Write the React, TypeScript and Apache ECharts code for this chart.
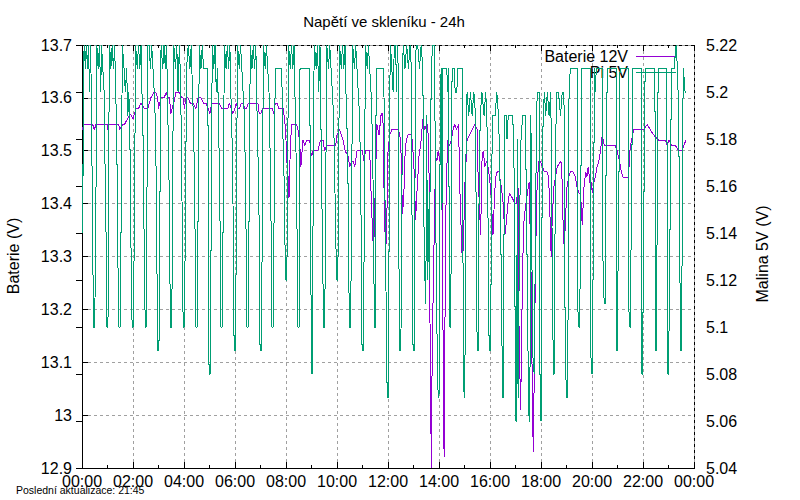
import React, { useEffect, useRef } from "react";
import * as echarts from "echarts";

const FONT = '"Liberation Sans", Arial, sans-serif';

const chartTitle = "Napětí ve skleníku - 24h";
const footerText = "Poslední aktualizace: 21:45";
const leftAxisName = "Baterie (V)";
const rightAxisName = "Malina 5V (V)";
const seriesNames = ["Baterie 12V", "Pi 5V"];

// [minute of day, volts]
const battery0to6: number[][] = [
  [0,13.54],[5,13.55],[25,13.55],[29,13.54],[33,13.55],[59,13.55],[61,13.54],[64,13.55],[86,13.55],[89,13.54],[96,13.55],[100,13.55],[107,13.56],[114,13.57],[120,13.56],[127,13.58],[133,13.58],[139,13.59],[147,13.58],[155,13.58],[162,13.6],[169,13.61],[174,13.61],[178,13.6],[180,13.58],[186,13.6],[193,13.6],[198,13.61],[202,13.6],[206,13.6],[209,13.57],[212,13.58],[216,13.59],[221,13.61],[229,13.61],[235,13.6],[238,13.6],[241,13.58],[244,13.6],[249,13.6],[255,13.59],[261,13.59],[268,13.58],[273,13.6],[280,13.6],[286,13.59],[292,13.59],[297,13.58],[301,13.57],[305,13.59],[323,13.59],[329,13.58],[343,13.58],[347,13.59],[351,13.58],[355,13.57],
];
const battery6to12: number[][] = [
  [360,13.58],[363,13.59],[367,13.58],[371,13.58],[375,13.59],[379,13.59],[383,13.58],[387,13.58],[391,13.59],[414,13.59],[417,13.57],[420,13.57],[426,13.58],[448,13.58],[451,13.57],[455,13.59],[459,13.59],[463,13.58],[473,13.58],[477,13.56],[480,13.52],[482,13.48],[485,13.45],[487,13.41],[490,13.5],[493,13.55],[500,13.55],[505,13.55],[508,13.54],[512,13.52],[515,13.47],[518,13.5],[520,13.52],[524,13.51],[529,13.52],[536,13.52],[538,13.5],[540,13.49],[544,13.5],[555,13.5],[558,13.51],[561,13.52],[567,13.52],[571,13.5],[576,13.51],[597,13.51],[600,13.53],[606,13.54],[610,13.53],[614,13.52],[619,13.5],[626,13.49],[630,13.47],[634,13.48],[638,13.48],[642,13.47],[647,13.5],[660,13.5],[663,13.48],[667,13.5],[677,13.5],[679,13.45],[681,13.4],[684,13.34],[686,13.31],[688,13.36],[690,13.43],[694,13.55],[699,13.53],[704,13.57],[708,13.57],[710,13.45],[712,13.38],[714,13.31],[717,13.34],
];
const battery12to18: number[][] = [
  [719,13.49],[724,13.53],[729,13.54],[744,13.54],[748,13.53],[751,13.49],[754,13.38],[757,13.41],[760,13.49],[763,13.52],[767,13.53],[775,13.53],[777,13.52],[781,13.47],[785,13.37],[788,13.42],[793,13.49],[798,13.52],[802,13.56],[806,13.54],[812,13.55],[816,13.52],[818,13.26],[820,13.06],[822,12.9],[824,13.12],[828,13.31],[832,13.49],[835,13.48],[838,13.5],[842,13.48],[846,13.51],[848,13.36],[850,13.08],[852,12.92],[854,13.17],[857,13.44],[861,13.52],[865,13.51],[869,13.52],[873,13.54],[877,13.55],[881,13.54],[886,13.55],[889,13.43],[893,13.33],[895,13.29],[898,13.33],[900,13.42],[906,13.52],[924,13.55],[930,13.54],[932,13.45],[936,13.38],[938,13.34],[941,13.48],[944,13.5],[948,13.47],[952,13.48],[955,13.47],[959,13.45],[963,13.41],[967,13.34],[970,13.4],[973,13.45],[977,13.46],[981,13.46],[987,13.43],[991,13.4],[995,13.34],[999,13.37],[1002,13.4],[1006,13.42],[1013,13.41],[1018,13.4],[1022,13.4],[1026,13.43],[1028,13.18],[1032,13.01],[1034,13.12],[1036,13.24],[1039,13.36],[1043,13.39],[1048,13.42],[1052,13.44],[1055,13.33],[1057,13.25],[1060,13.0],[1062,12.93],[1063,13.0],
];
const battery18to24: number[][] = [
  [1067,13.29],[1071,13.44],[1075,13.48],[1079,13.48],[1083,13.47],[1088,13.46],[1094,13.46],[1098,13.45],[1101,13.38],[1104,13.3],[1106,13.36],[1110,13.43],[1114,13.45],[1118,13.47],[1127,13.48],[1130,13.44],[1132,13.36],[1135,13.31],[1137,13.36],[1141,13.43],[1145,13.45],[1149,13.46],[1156,13.46],[1161,13.45],[1165,13.43],[1169,13.42],[1173,13.42],[1177,13.36],[1181,13.43],[1185,13.46],[1188,13.45],[1191,13.47],[1195,13.44],[1198,13.44],[1201,13.42],[1204,13.44],[1208,13.45],[1212,13.47],[1216,13.48],[1220,13.5],[1224,13.53],[1229,13.51],[1255,13.51],[1259,13.5],[1265,13.48],[1269,13.46],[1273,13.45],[1286,13.45],[1289,13.5],[1293,13.52],[1298,13.54],[1322,13.54],[1330,13.55],[1337,13.54],[1345,13.53],[1357,13.52],[1373,13.52],[1377,13.51],[1381,13.52],[1388,13.51],[1396,13.51],[1404,13.5],[1412,13.5],[1416,13.51],[1421,13.52],
];

const pi0to6: number[][] = [
  [0,5.17],[1,5.15],[2,5.14],[3,5.2],[5,5.22],[8,5.21],[10,5.22],[13,5.21],[15,5.22],[18,5.2],[20,5.22],
  [22,5.2],[24,5.16],[26,5.12],[27,5.1],[30,5.1],[31,5.12],[33,5.16],[35,5.22],[38,5.21],[41,5.22],[44,5.2],[46,5.22],[49,5.21],
  [52,5.2],[54,5.17],[56,5.16],[57,5.12],[58,5.1],[61,5.1],[62,5.12],[63,5.18],[65,5.22],[68,5.21],[71,5.22],[74,5.21],[77,5.22],[79,5.2],
  [81,5.19],[83,5.16],[85,5.12],[87,5.1],[90,5.1],[91,5.12],[93,5.17],[95,5.22],[99,5.21],[102,5.2],[105,5.21],[108,5.19],[110,5.2],
  [112,5.19],[114,5.16],[116,5.12],[118,5.1],[121,5.1],[122,5.12],[124,5.16],[126,5.22],[130,5.21],[133,5.22],[136,5.21],[139,5.22],[141,5.2],
  [143,5.19],[145,5.16],[147,5.12],[149,5.1],[151,5.1],[152,5.11],[153,5.16],[155,5.22],[158,5.22],[161,5.21],[164,5.22],[167,5.21],[170,5.2],
  [172,5.19],[175,5.16],[177,5.11],[178,5.09],[181,5.09],[182,5.11],[184,5.17],[186,5.22],[190,5.21],[193,5.22],[196,5.21],[199,5.22],[201,5.2],
  [203,5.18],[205,5.16],[207,5.12],[208,5.1],[211,5.1],[212,5.12],[214,5.18],[216,5.22],[220,5.21],[223,5.22],[226,5.2],[229,5.22],[231,5.21],
  [233,5.19],[235,5.16],[237,5.12],[238,5.1],[241,5.1],[242,5.12],[244,5.16],[246,5.21],[250,5.22],[254,5.21],[257,5.22],[260,5.2],
  [262,5.19],[265,5.16],[267,5.12],[268,5.1],[271,5.1],[272,5.12],[274,5.17],[276,5.22],[280,5.21],[283,5.22],[286,5.21],[296,5.21],
  [297,5.16],[298,5.11],[299,5.08],[302,5.08],[303,5.11],[305,5.19],[307,5.22],[310,5.21],[313,5.22],[316,5.2],[319,5.21],
  [321,5.19],[324,5.16],[326,5.12],[327,5.1],[330,5.1],[331,5.12],[333,5.17],[335,5.22],[339,5.21],[342,5.22],[345,5.21],[348,5.22],[350,5.2],
  [352,5.19],[355,5.16],[357,5.11],[358,5.09],
];
const pi6to12: number[][] = [
  [361,5.09],[362,5.11],[364,5.17],[366,5.22],[370,5.21],[373,5.22],[376,5.21],[379,5.2],
  [382,5.19],[385,5.16],[387,5.12],[388,5.1],[391,5.1],[392,5.12],[394,5.17],[396,5.22],[400,5.21],[403,5.22],[406,5.21],[409,5.22],[411,5.2],
  [413,5.18],[416,5.16],[418,5.11],[419,5.09],[422,5.09],[423,5.11],[425,5.17],[427,5.22],[431,5.21],[434,5.22],[437,5.21],[440,5.2],
  [442,5.18],[444,5.16],[446,5.12],[447,5.1],[450,5.1],[451,5.12],[453,5.18],[455,5.21],[469,5.21],[471,5.2],
  [473,5.18],[476,5.16],[478,5.13],[479,5.12],[482,5.12],[484,5.17],[486,5.22],[490,5.21],[493,5.22],[496,5.21],[499,5.22],[501,5.2],
  [503,5.18],[505,5.16],[507,5.12],[508,5.1],[511,5.1],[512,5.18],[513,5.21],[536,5.21],
  [537,5.16],[539,5.11],[540,5.08],[542,5.08],[543,5.12],[545,5.2],[547,5.22],[551,5.21],[554,5.22],[557,5.2],[560,5.22],
  [562,5.19],[564,5.16],[567,5.12],[568,5.1],[571,5.1],[572,5.12],[574,5.17],[576,5.22],[580,5.21],[583,5.22],[586,5.21],[589,5.2],
  [592,5.19],[595,5.16],[598,5.13],[599,5.12],[602,5.12],[604,5.17],[606,5.22],[610,5.21],[613,5.22],[616,5.21],[619,5.22],[621,5.2],
  [623,5.19],[626,5.16],[628,5.12],[629,5.1],[632,5.1],[633,5.12],[635,5.17],[637,5.22],[641,5.21],[644,5.22],[647,5.21],[650,5.2],
  [653,5.19],[656,5.16],[658,5.11],[659,5.09],[662,5.09],[663,5.11],[665,5.17],[667,5.22],[671,5.21],[674,5.22],[677,5.21],[680,5.2],
  [682,5.19],[685,5.16],[687,5.12],[688,5.1],[691,5.1],[692,5.21],[710,5.21],
  [712,5.17],[715,5.12],[717,5.09],[718,5.07],
];
const pi12to18: number[][] = [
  [721,5.07],[722,5.12],[723,5.15],[724,5.2],[726,5.22],[729,5.21],[732,5.2],[735,5.22],[738,5.22],[740,5.2],[742,5.22],
  [744,5.21],[746,5.12],[747,5.11],[748,5.09],[750,5.09],[752,5.12],[754,5.21],[756,5.22],[760,5.21],[764,5.22],[768,5.21],[772,5.22],[775,5.21],
  [776,5.16],[778,5.11],[779,5.09],[782,5.09],[783,5.15],[786,5.22],[790,5.22],[794,5.21],[798,5.22],[802,5.21],
  [804,5.15],[807,5.12],[809,5.11],[811,5.19],[813,5.12],[815,5.15],[817,5.12],[819,5.16],[822,5.21],[825,5.22],[829,5.22],[832,5.16],
  [834,5.11],[836,5.09],[838,5.07],[840,5.07],[841,5.12],[843,5.19],[845,5.21],[847,5.15],[849,5.21],[858,5.21],[861,5.2],[863,5.21],
  [864,5.12],[865,5.1],[868,5.1],[869,5.18],[871,5.21],[876,5.21],[878,5.2],[882,5.2],[884,5.21],[895,5.21],
  [896,5.14],[898,5.09],[899,5.07],[901,5.07],[902,5.15],[904,5.18],[906,5.2],[910,5.19],[914,5.2],[918,5.19],[922,5.2],[926,5.19],
  [927,5.16],[929,5.1],[931,5.09],[933,5.09],[934,5.15],[937,5.19],[941,5.2],[946,5.19],[950,5.2],[954,5.18],
  [956,5.13],[958,5.09],[961,5.09],[963,5.13],[965,5.18],[967,5.19],[972,5.19],[976,5.2],[980,5.19],[983,5.17],
  [986,5.13],[988,5.1],[989,5.07],[991,5.07],[992,5.09],[994,5.19],[998,5.19],[1000,5.18],[1003,5.19],[1013,5.19],[1016,5.18],
  [1018,5.13],[1020,5.08],[1021,5.06],[1023,5.06],[1024,5.18],[1026,5.07],[1030,5.15],[1033,5.18],[1037,5.19],[1043,5.19],[1046,5.15],
  [1050,5.08],[1052,5.06],[1054,5.06],[1055,5.19],[1057,5.18],[1060,5.09],[1064,5.08],[1067,5.14],[1069,5.18],
];
const pi18to24: number[][] = [
  [1071,5.2],[1076,5.2],[1077,5.09],[1079,5.06],[1081,5.06],[1082,5.14],[1085,5.19],[1088,5.2],[1091,5.19],[1095,5.2],[1099,5.19],[1103,5.2],
  [1106,5.14],[1109,5.08],[1111,5.08],[1112,5.12],[1116,5.2],[1121,5.2],[1126,5.19],[1130,5.2],[1134,5.2],
  [1137,5.09],[1140,5.07],[1142,5.07],[1143,5.08],[1146,5.2],[1149,5.21],[1165,5.21],
  [1166,5.11],[1169,5.1],[1171,5.1],[1172,5.12],[1176,5.21],[1196,5.21],
  [1197,5.09],[1199,5.08],[1201,5.08],[1202,5.11],[1206,5.21],[1208,5.2],[1210,5.21],[1225,5.21],
  [1226,5.12],[1229,5.11],[1231,5.11],[1232,5.15],[1236,5.21],[1257,5.21],
  [1258,5.09],[1260,5.09],[1261,5.12],[1266,5.21],[1285,5.21],
  [1286,5.11],[1289,5.1],[1291,5.1],[1292,5.14],[1296,5.21],[1316,5.21],
  [1317,5.08],[1319,5.08],[1321,5.13],[1325,5.21],[1348,5.21],
  [1349,5.14],[1350,5.09],[1352,5.09],[1354,5.18],[1356,5.21],[1376,5.21],
  [1378,5.08],[1380,5.08],[1382,5.11],[1386,5.19],[1388,5.21],[1393,5.21],[1398,5.22],[1401,5.21],[1404,5.19],
  [1407,5.12],[1409,5.09],[1411,5.09],[1413,5.18],[1415,5.21],[1419,5.2],[1422,5.2],
];

const batteryData = [...battery0to6, ...battery6to12, ...battery12to18, ...battery18to24];
const piData = [...pi0to6, ...pi6to12, ...pi12to18, ...pi18to24];

const xMin = 0;
const xMax = 1440;
const xStep = 120;
const leftMin = 12.9;
const leftMax = 13.7;
const leftStep = 0.1;
const rightMin = 5.04;
const rightMax = 5.22;
const rightStep = 0.02;

const trim = (v: number) => String(parseFloat(v.toFixed(2)));
const hhmm = (v: number) => {
  const h = Math.round(v / 60) % 24;
  return (h < 10 ? "0" : "") + h + ":00";
};

export default function App() {
  const ref = useRef<HTMLDivElement>(null);
  useEffect(() => {
    document.body.style.margin = "0";
    if (!ref.current) return;
    const chart = echarts.init(ref.current, undefined, { renderer: "svg" });
    const gridLine = { show: true, lineStyle: { color: "#a0a0a0", type: [3, 3] as any, width: 1 } };
    const axisText = { color: "#000", fontSize: 16, fontFamily: FONT };
    chart.setOption({
      animation: false,
      backgroundColor: "#fff",
      textStyle: { fontFamily: FONT },
      grid: { left: 82, right: 106, top: 45, bottom: 32, show: true, borderColor: "#000", borderWidth: 1, backgroundColor: "transparent" },
      legend: {
        show: true,
        data: seriesNames,
        orient: "vertical",
        align: "right",
        right: 124,
        top: 48,
        padding: 0,
        icon: "rect",
        itemWidth: 40,
        itemHeight: 1,
        itemGap: 0,
        textStyle: { color: "#000", fontSize: 16, lineHeight: 16, fontFamily: FONT, padding: [0, 3, 0, 0] },
      },
      xAxis: [
        {
          type: "value",
          min: xMin,
          max: xMax,
          interval: xStep,
          position: "bottom",
          axisLine: { show: true, lineStyle: { color: "#000", width: 1 } },
          axisTick: { show: true, inside: true, length: 6, lineStyle: { color: "#000" } },
          minorTick: { show: true, splitNumber: 2, length: 3, lineStyle: { color: "#000" } },
          axisLabel: { ...axisText, margin: 5, formatter: hhmm },
          splitLine: gridLine,
        },
        {
          type: "value",
          min: xMin,
          max: xMax,
          interval: xStep,
          position: "top",
          axisLine: { show: false },
          axisTick: { show: true, inside: true, length: 6, lineStyle: { color: "#000" } },
          minorTick: { show: true, splitNumber: 2, length: 3, lineStyle: { color: "#000" } },
          axisLabel: { show: false },
          splitLine: { show: false },
        },
      ],
      yAxis: [
        {
          type: "value",
          position: "left",
          min: leftMin,
          max: leftMax,
          interval: leftStep,
          axisLine: { show: true, lineStyle: { color: "#000", width: 1 } },
          axisTick: { show: true, inside: true, length: 6, lineStyle: { color: "#000" } },
          axisLabel: { ...axisText, margin: 10, formatter: trim },
          splitLine: gridLine,
        },
        {
          type: "value",
          position: "right",
          min: rightMin,
          max: rightMax,
          interval: rightStep,
          axisLine: { show: true, lineStyle: { color: "#000", width: 1 } },
          axisTick: { show: true, inside: true, length: 6, lineStyle: { color: "#000" } },
          axisLabel: { ...axisText, margin: 12, formatter: trim },
          splitLine: { show: false },
        },
      ],
      series: [
        {
          name: seriesNames[0],
          type: "line",
          xAxisIndex: 0,
          yAxisIndex: 0,
          data: batteryData,
          symbol: "none",
          showSymbol: false,
          lineStyle: { color: "#9400d3", width: 1 },
          itemStyle: { color: "#9400d3" },
          z: 3,
        },
        {
          name: seriesNames[1],
          type: "line",
          xAxisIndex: 0,
          yAxisIndex: 1,
          data: piData,
          symbol: "none",
          showSymbol: false,
          lineStyle: { color: "#009e73", width: 1 },
          itemStyle: { color: "#009e73" },
          z: 4,
        },
      ],
      graphic: [
        { type: "text", x: 384, y: 21, style: { text: chartTitle, align: "center", verticalAlign: "middle", font: `15px ${FONT}`, fill: "#000" } },
        { type: "text", x: 13, y: 256, rotation: Math.PI / 2, style: { text: leftAxisName, align: "center", verticalAlign: "middle", font: `16px ${FONT}`, fill: "#000" } },
        { type: "text", x: 762, y: 254, rotation: Math.PI / 2, style: { text: rightAxisName, align: "center", verticalAlign: "middle", font: `16px ${FONT}`, fill: "#000" } },
        { type: "text", x: 16, y: 490, style: { text: footerText, align: "left", verticalAlign: "middle", font: `10.5px ${FONT}`, fill: "#000" } },
      ],
    });
    return () => chart.dispose();
  }, []);
  return (
    <>
      <style>{".chart-box svg path { shape-rendering: crispEdges; }"}</style>
      <div className="chart-box" ref={ref} style={{ position: "absolute", left: 0, top: 0, width: 800, height: 500 }} />
    </>
  );
}
